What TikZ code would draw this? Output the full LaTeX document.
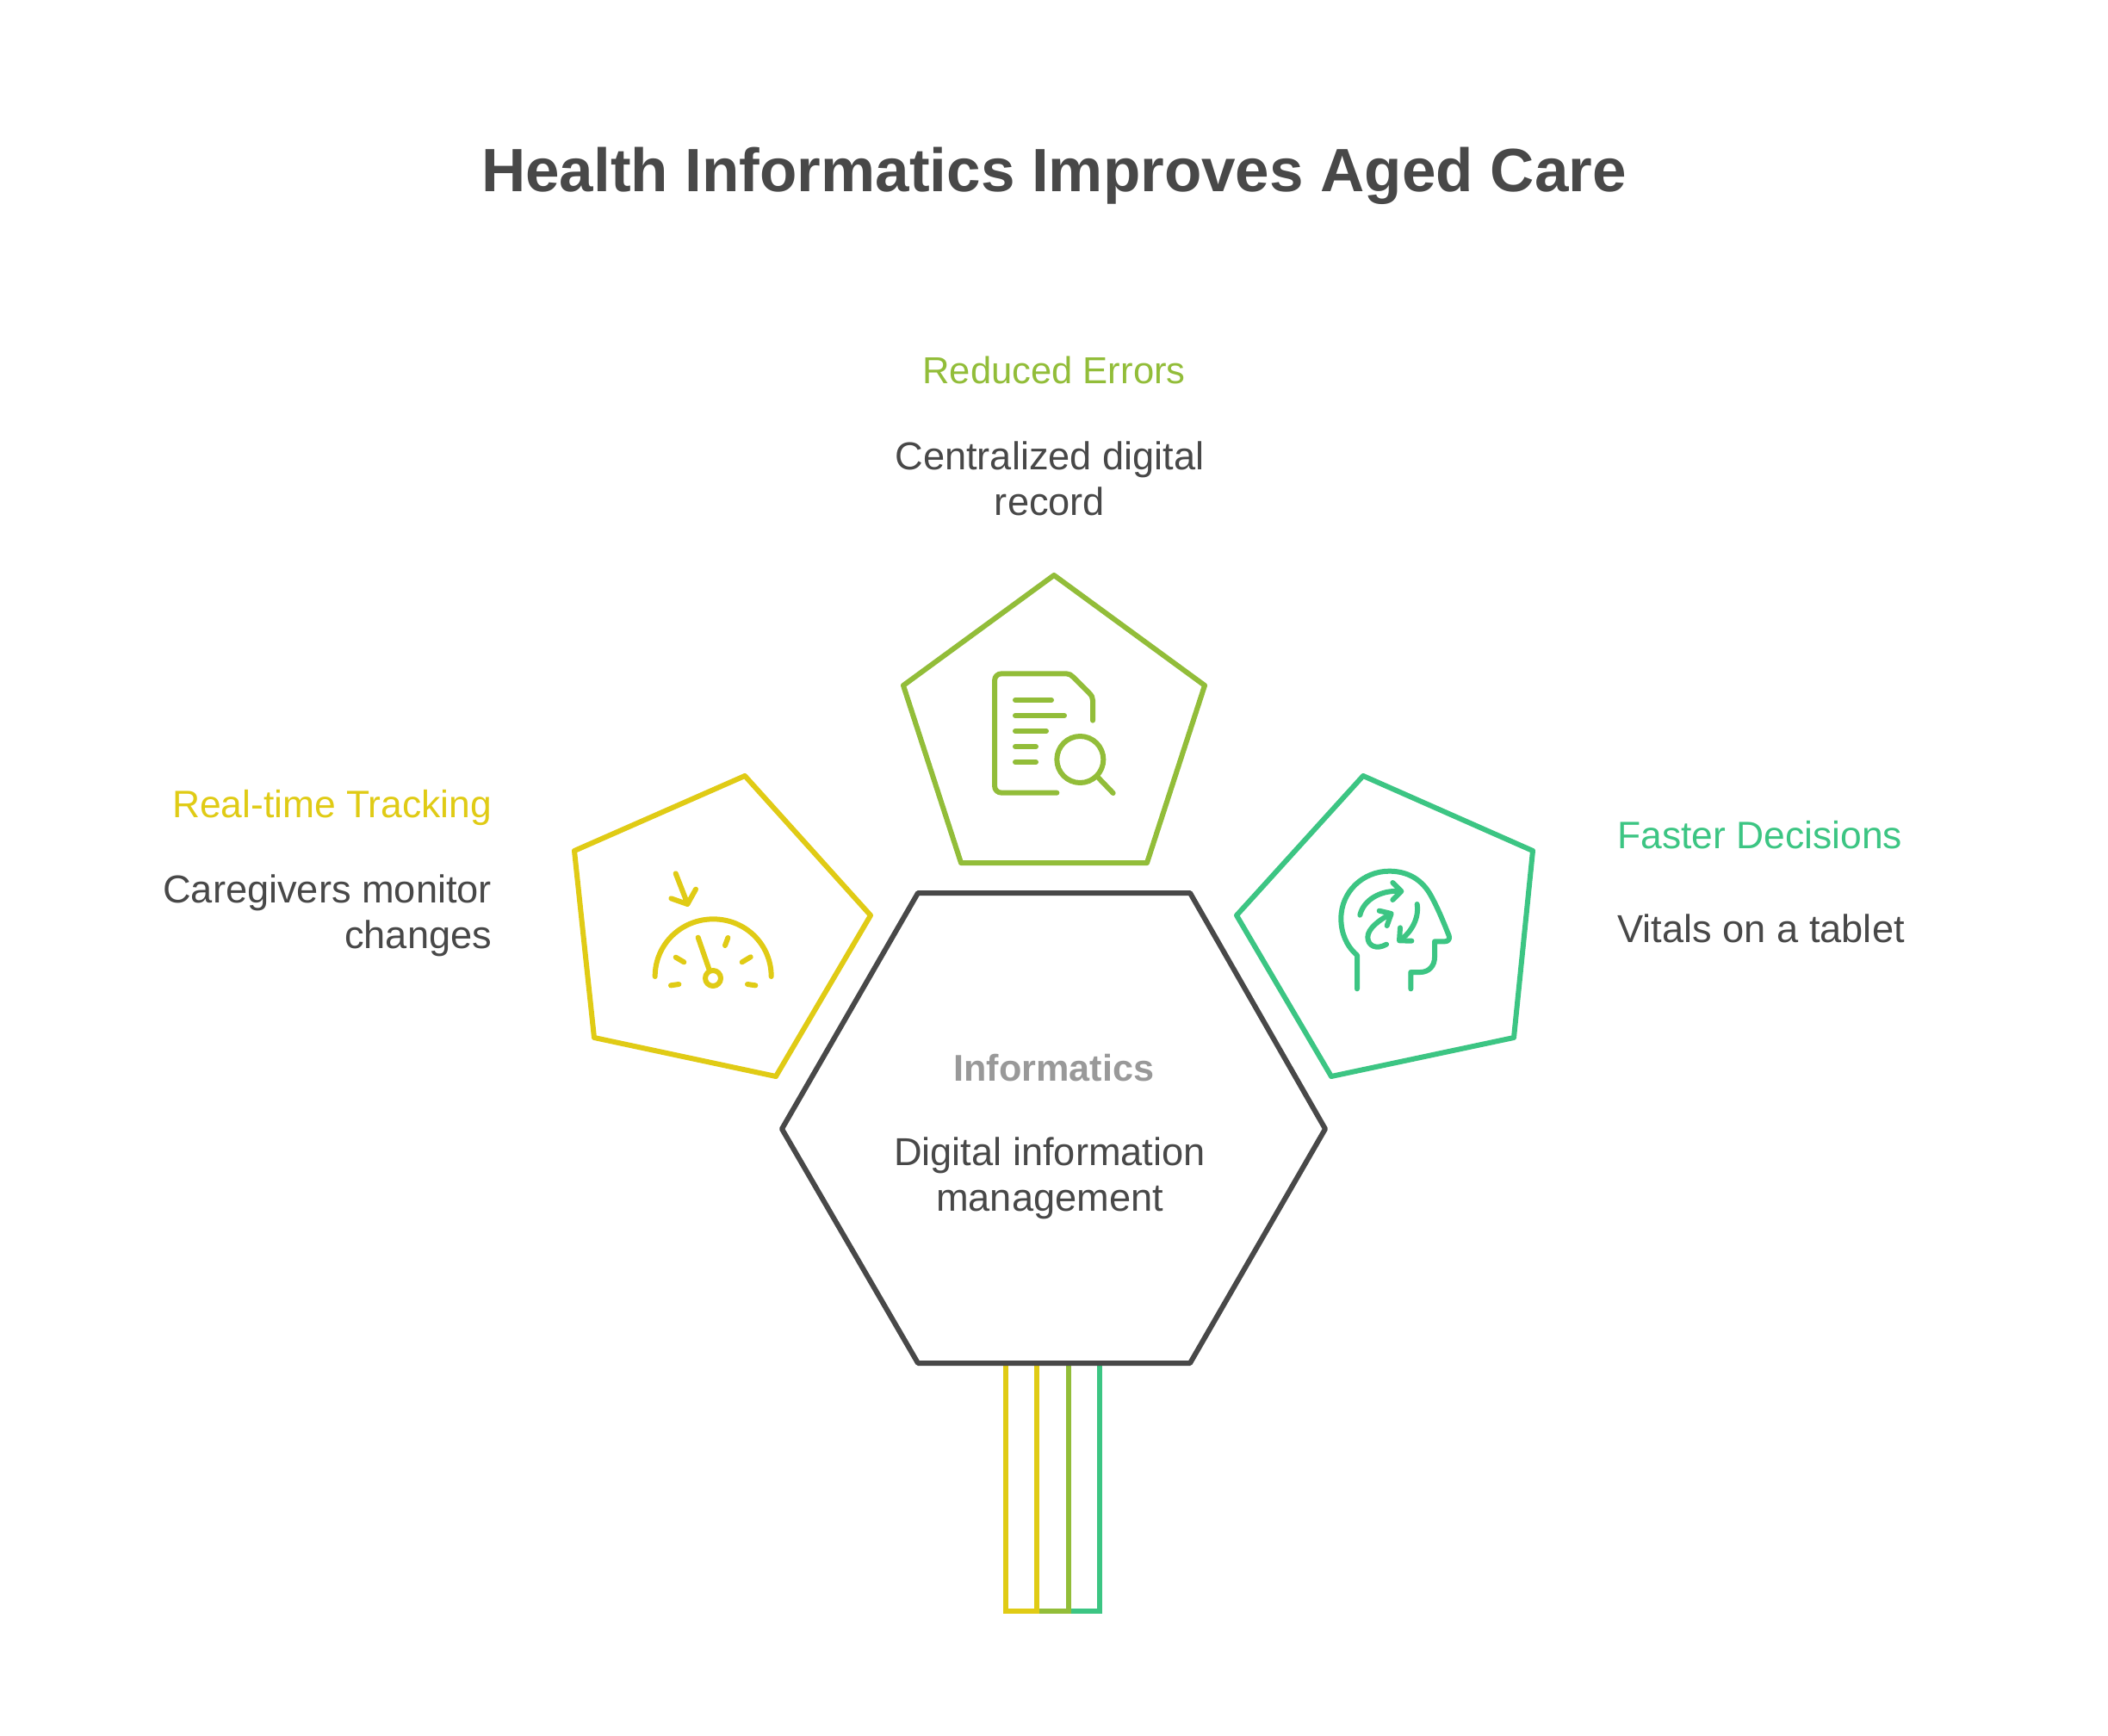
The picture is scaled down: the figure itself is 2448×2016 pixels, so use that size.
\documentclass[tikz,border=0pt]{standalone}
\usepackage{fontspec}
\setmainfont{Liberation Sans}
\definecolor{ink}{HTML}{484848}
\definecolor{yel}{HTML}{E0CB15}
\definecolor{oli}{HTML}{92BD39}
\definecolor{tea}{HTML}{3CC583}
\definecolor{gry}{HTML}{999999}
\tikzset{
  shapeline/.style={line width=3pt,line join=round,draw=#1},
  iconline/.style={line width=3pt,line cap=round,line join=round,draw=#1},
  barline/.style={line width=3pt,line join=miter,line cap=butt,draw=#1},
  ttl/.style={inner sep=0pt,font=\fontsize{35.5}{40}\selectfont\bfseries,text=ink},
  head/.style={inner sep=0pt,font=\fontsize{22.2}{26.5}\selectfont,text=#1},
  body/.style={inner sep=0pt,font=\fontsize{22.6}{26.5}\selectfont,text=ink},
  zoomed/.style={shift={(#1)},x=0.16667pt,y=-0.16667pt}
}
\begin{document}
\begin{tikzpicture}[x=0.5pt,y=-0.5pt]
\useasboundingbox[fill=white] (0,0) rectangle (2448,2016);
% bars
\coordinate (b1) at (1168,1584);
\coordinate (b2) at (1204,1584);
\coordinate (b3) at (1240.5,1584);
\coordinate (b4) at (1276.5,1584);
\draw[barline=tea] (b4) -- ++(0,287) -- ++(-36,0);
\draw[barline=oli] (b3) -- ++(0,287) -- ++(-36.5,0);
\draw[barline=yel] (b2) -- ++(0,287) -- ++(-36,0) -- (b1);
% shapes
\draw[shapeline=ink] (1066,1037) -- (1382,1037) -- (1539,1311) -- (1382,1583) -- (1066,1583) -- (908,1311) -- cycle;
\draw[shapeline=oli] (1224,668) -- (1399,796) -- (1332,1002) -- (1116,1002) -- (1049,796) -- cycle;
\draw[shapeline=yel] (865,901) -- (1011,1063) -- (901,1250) -- (690,1205) -- (667,988) -- cycle;
\draw[shapeline=tea] (1583,901) -- (1780,988) -- (1758,1205) -- (1546,1250) -- (1436,1063) -- cycle;
% document icon
\begin{scope}[zoomed={1100,740}]
\draw[iconline=oli] (382,542) -- (190,542) .. controls (175,542) and (165,532) .. (165,517) -- (165,152) .. controls (165,137) and (175,127) .. (190,127) -- (415,127) .. controls (425,127) and (432,132) .. (438,138) -- (495,195) .. controls (503,203) and (507,210) .. (507,220) -- (507,290);
\draw[iconline=oli] (237,219) -- (363,219) (237,273) -- (408,273) (237,327) -- (345,327) (237,381) -- (309,381) (237,435) -- (309,435);
\draw[iconline=oli] (463,426) circle[radius=81];
\draw[iconline=oli] (527,490) -- (578,543);
\end{scope}
% gauge icon
\begin{scope}[zoomed={720,980}]
\draw[iconline=yel] (122,462) .. controls (122,350) and (213,262) .. (325,262) .. controls (437,262) and (527,350) .. (527,462);
\draw[iconline=yel] (177,493) -- (205,489) (194,395) -- (223,412) (366,354) -- (376,327) (425,412) -- (455,394) (444,489) -- (472,493);
\draw[iconline=yel] (272,326) -- (310,436);
\draw[iconline=yel] (324,468) circle[radius=27];
\draw[iconline=yel] (194,103) -- (235,208) (178,190) -- (235,210) -- (264,158);
\end{scope}
% head icon
\begin{scope}[zoomed={1520,980}]
\draw[iconline=tea] (168,505) -- (168,388) .. controls (130,355) and (112,310) .. (112,260) .. controls (112,165) and (190,95) .. (280,95) .. controls (345,95) and (395,125) .. (425,180) .. controls (450,225) and (470,275) .. (488,320) .. controls (492,332) and (485,340) .. (473,340) -- (438,340) -- (438,395) .. controls (438,425) and (418,447) .. (388,447) -- (355,447) -- (355,505);
\draw[iconline=tea] (178,248) .. controls (190,195) and (250,160) .. (318,165);
\draw[iconline=tea] (292,135) -- (322,165) -- (292,195);
\draw[iconline=tea] (377,210) .. controls (385,260) and (355,310) .. (318,335);
\draw[iconline=tea] (318,292) -- (315,337) -- (358,338);
\draw[iconline=tea] (270,350) .. controls (235,370) and (205,355) .. (205,325) .. controls (205,295) and (245,265) .. (283,245);
\draw[iconline=tea] (245,233) -- (287,243) -- (272,285);
\end{scope}
% texts
\node[ttl] (title) at (1224,204) {Health Informatics Improves Aged Care};
\node[head=oli,font=\fontsize{21.8}{26.5}\selectfont] (h1) at (1224,430) {Reduced Errors};
\node[body,align=center] (t1) at (1219,556) {Centralized digital\\record};
\node[head=yel,anchor=east] (h2) at (571.5,938) {Real-time Tracking};
\node[body,align=right,anchor=east] (t2) at (571.5,1063) {Caregivers monitor\\changes};
\node[head=tea,anchor=west] (h3) at (1878,970) {Faster Decisions};
\node[body,anchor=west] (t3) at (1878,1078) {Vitals on a tablet};
\node[inner sep=0pt,text=gry,font=\fontsize{21.6}{26.5}\selectfont\bfseries] (h4) at (1224,1240) {Informatics};
\node[body,align=center] (t4) at (1219,1368) {Digital information\\management};
\end{tikzpicture}
\end{document}
